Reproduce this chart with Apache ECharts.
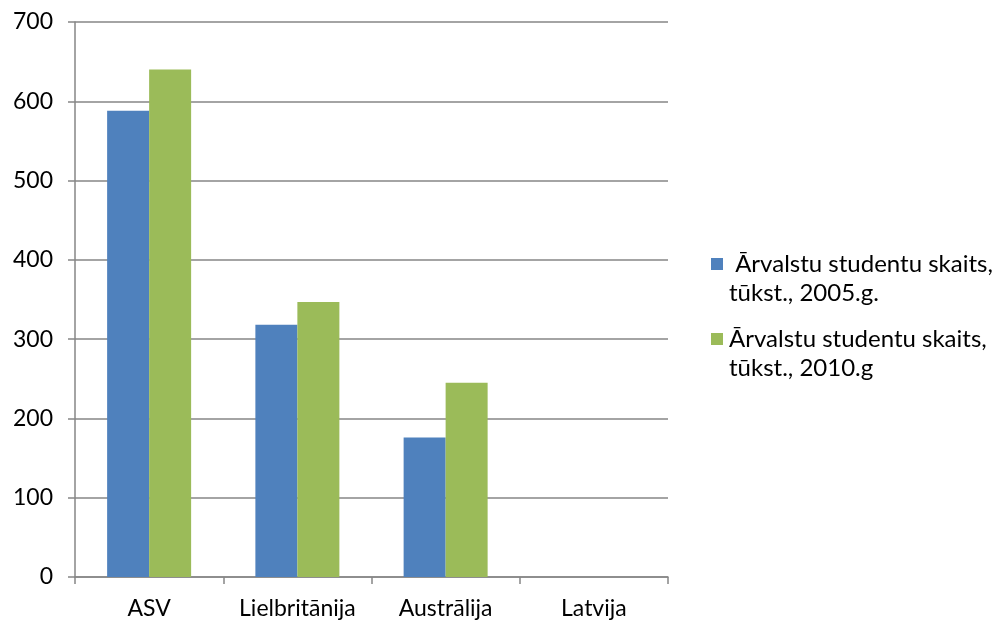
<!DOCTYPE html>
<html>
<head>
<meta charset="utf-8">
<script src="https://cdn.jsdelivr.net/npm/echarts@6/dist/echarts.min.js"></script>
<style>
  html, body { margin: 0; padding: 0; background: #fff; }
  #chart { width: 1006px; height: 623px; }
</style>
</head>
<body>
<div id="chart"></div>
<script>
// Foreign students by host country, thousands
const categories = ['ASV', 'Lielbritānija', 'Austrālija', 'Latvija'];
const seriesNames = [' Ārvalstu studentu skaits,\ntūkst., 2005.g.', 'Ārvalstu studentu skaits,\ntūkst., 2010.g'];
const students2005 = [588, 318, 176, 0];
const students2010 = [640, 347, 245, 0];
const yTicks = { min: 0, max: 700, interval: 100 };

const colors = ['#4F81BD', '#9BBB59'];
const FONT = 'Lato';
const AXIS = '#868686';

const chart = echarts.init(document.getElementById('chart'), null, { renderer: 'canvas' });

// legend drawn as graphic items so the swatch sits on the first text line
const legendGraphics = [];
const legendTops = [250, 325];
seriesNames.forEach((name, i) => {
  const top = legendTops[i];
  legendGraphics.push({
    type: 'rect',
    left: 711, top: top + 8,
    shape: { width: 12, height: 12 },
    style: { fill: colors[i] }
  });
  legendGraphics.push({
    type: 'text',
    left: 729, top: top,
    style: {
      text: name,
      font: '24px ' + FONT,
      fill: '#000',
      lineHeight: 29
    }
  });
});

chart.setOption({
  animation: false,
  color: colors,
  grid: { left: 75, top: 22, right: 338, bottom: 46, containLabel: false },
  xAxis: {
    type: 'category',
    data: categories,
    axisLine: { lineStyle: { color: AXIS, width: 1.5 } },
    axisTick: { show: true, interval: 0, length: 7, lineStyle: { color: AXIS, width: 1.5 } },
    axisLabel: { interval: 0, hideOverlap: false, color: '#000', fontFamily: FONT, fontSize: 23, margin: 20 },
    splitLine: { show: false }
  },
  yAxis: {
    type: 'value',
    min: yTicks.min, max: yTicks.max, interval: yTicks.interval,
    axisLine: { show: true, lineStyle: { color: AXIS, width: 1.5 } },
    axisTick: { show: true, length: 7, lineStyle: { color: AXIS, width: 1.5 } },
    axisLabel: { color: '#000', fontFamily: FONT, fontSize: 23, margin: 22 },
    splitLine: { show: true, lineStyle: { color: AXIS, width: 1.5 } }
  },
  series: [
    { name: seriesNames[0], type: 'bar', data: students2005, barWidth: 42, barGap: '0%' },
    { name: seriesNames[1], type: 'bar', data: students2010, barWidth: 42, barGap: '0%' }
  ],
  graphic: legendGraphics
});
</script>
</body>
</html>
